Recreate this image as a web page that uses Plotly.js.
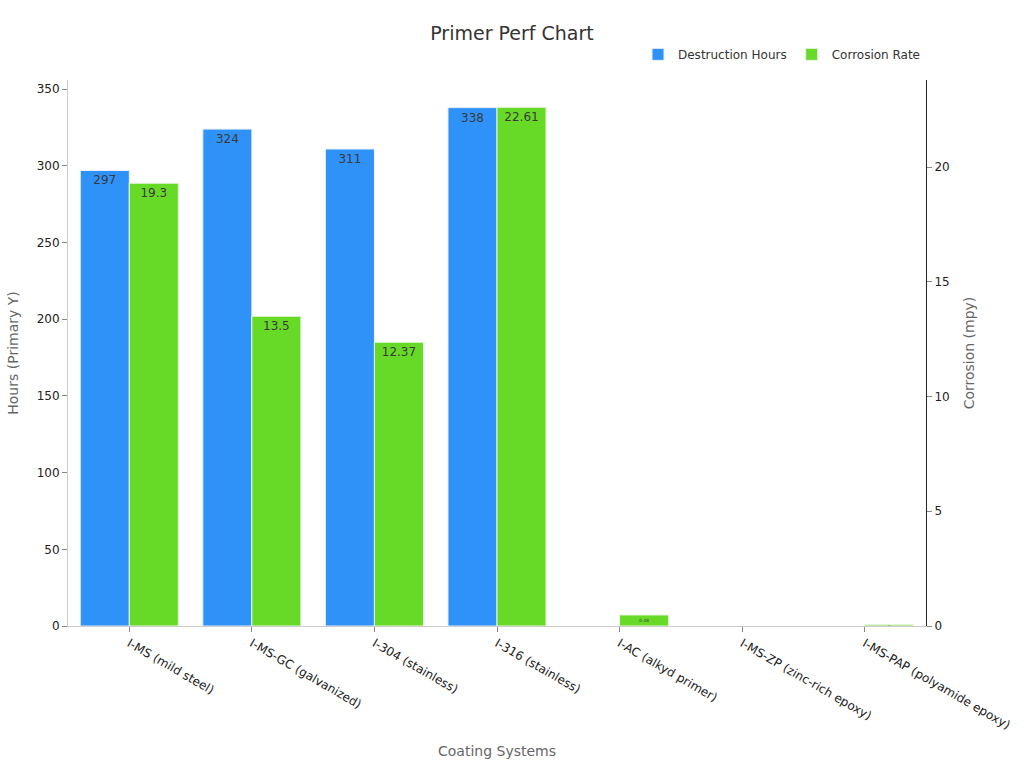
<!DOCTYPE html>
<html>
<head>
<meta charset="utf-8">
<script src="https://cdn.plot.ly/plotly-3.0.1.min.js"></script>
<style>
  html, body { margin: 0; padding: 0; background: #fff; }
  #chart { width: 1024px; height: 768px; }
</style>
</head>
<body>
<div id="chart"></div>
<script>
// Coating systems and their measurements
const categories = [
    'I-MS (mild steel)',
    'I-MS-GC (galvanized)',
    'I-304 (stainless)',
    'I-316 (stainless)',
    'I-AC (alkyd primer)',
    'I-MS-ZP (zinc-rich epoxy)',
    'I-MS-PAP (polyamide epoxy)'
];
const destructionHours = [297, 324, 311, 338, null, null, null];
const corrosionRate = [19.3, 13.5, 12.37, 22.61, 0.48, null, 0.05];

const FONT = 'DejaVu Sans, Verdana, sans-serif';

const traces = [
    {
        name: 'Destruction Hours',
        type: 'bar',
        x: categories,
        y: destructionHours,
        yaxis: 'y',
        offsetgroup: 'a',
        marker: { color: '#2F92F8', line: { color: '#E8F1FB', width: 1 } },
        text: destructionHours.map(v => v == null ? '' : String(v)),
        textposition: 'inside',
        insidetextanchor: 'end',
        textfont: { family: FONT, size: 12, color: '#3a3a3a' },
        hoverinfo: 'x+y'
    },
    {
        name: 'Corrosion Rate',
        type: 'bar',
        x: categories,
        y: corrosionRate,
        yaxis: 'y2',
        offsetgroup: 'b',
        marker: { color: '#67DA27', line: { color: '#E8F6DF', width: 1 } },
        text: corrosionRate.map(v => v == null ? '' : String(v)),
        textposition: 'inside',
        insidetextanchor: 'end',
        textfont: { family: FONT, size: 12, color: '#3a3a3a' },
        hoverinfo: 'x+y'
    }
];

const layout = {
    width: 1024,
    height: 768,
    margin: { l: 68, r: 98, t: 80, b: 142 },
    paper_bgcolor: '#fff',
    plot_bgcolor: '#fff',
    font: { family: FONT, size: 12, color: '#333' },
    title: {
        text: 'Primer Perf Chart',
        font: { family: FONT, size: 19, color: '#333' },
        x: 0.5,
        xanchor: 'center',
        y: 0.957,
        yanchor: 'middle'
    },
    barmode: 'group',
    bargap: 0.2,
    bargroupgap: 0,
    showlegend: true,
    legend: {
        orientation: 'h',
        x: 1,
        xanchor: 'right',
        y: 1.047,
        yanchor: 'middle',
        font: { family: FONT, size: 12, color: '#333' },
        itemwidth: 30
    },
    xaxis: {
        type: 'category',
        tickangle: 30,
        ticks: 'outside',
        ticklen: 5,
        tickcolor: '#888',
        showline: true,
        linecolor: '#ccc',
        showgrid: false,
        tickfont: { family: FONT, size: 12, color: '#222' },
        title: {
            text: 'Coating Systems',
            font: { family: FONT, size: 14, color: '#666' },
            standoff: 14
        }
    },
    yaxis: {
        range: [0, 356],
        dtick: 50,
        ticks: 'outside',
        ticklen: 5,
        tickcolor: '#888',
        showline: true,
        linecolor: '#ccc',
        showgrid: false,
        zeroline: false,
        tickfont: { family: FONT, size: 12, color: '#222' },
        title: {
            text: 'Hours (Primary Y)',
            font: { family: FONT, size: 14, color: '#666' },
            standoff: 14
        }
    },
    yaxis2: {
        overlaying: 'y',
        side: 'right',
        range: [0, 23.8],
        dtick: 5,
        ticks: 'outside',
        ticklen: 5,
        tickcolor: '#888',
        showline: true,
        linecolor: '#222',
        showgrid: false,
        zeroline: false,
        tickfont: { family: FONT, size: 12, color: '#222' },
        title: {
            text: 'Corrosion (mpy)',
            font: { family: FONT, size: 14, color: '#666' },
            standoff: 15
        }
    }
};

Plotly.newPlot('chart', traces, layout, { displayModeBar: false, staticPlot: true });
</script>
</body>
</html>
